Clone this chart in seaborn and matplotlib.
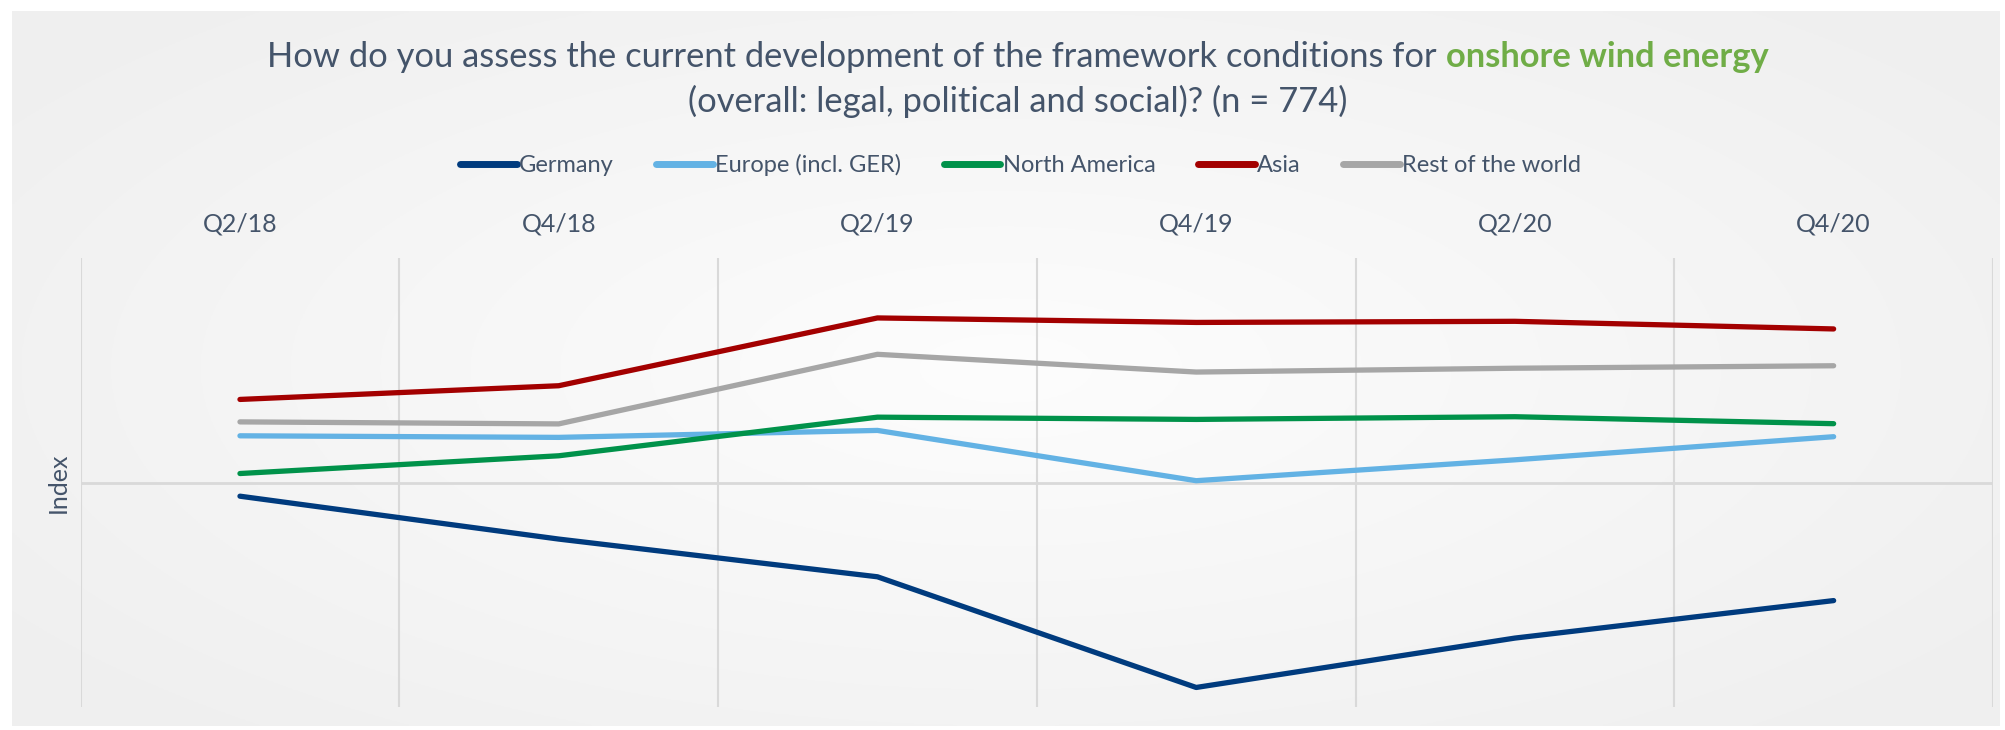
import numpy as np
import pandas as pd
import seaborn as sns
from matplotlib import pyplot as plt

# quarters and index values (axis has no scale: -100..100)
quarters = ["Q2/18", "Q4/18", "Q2/19", "Q4/19", "Q2/20", "Q4/20"]
germany = [-6.1, -25.2, -42.0, -91.3, -69.3, -52.6]
europe = [20.8, 20.1, 23.2, 0.8, 10.1, 20.4]
north_america = [4.0, 11.9, 29.1, 28.1, 29.3, 26.2]
asia = [37.0, 43.1, 73.3, 71.3, 71.8, 68.4]
rest_of_world = [27.0, 26.1, 57.1, 49.2, 50.9, 52.0]

regions = ["Germany", "Europe (incl. GER)", "North America", "Asia", "Rest of the world"]
colors = ["#003B7E", "#63B2E4", "#00924A", "#A30000", "#A6A6A6"]
text_color = "#44546A"

df = pd.DataFrame({
    "Quarter": quarters * 5,
    "Index": germany + europe + north_america + asia + rest_of_world,
    "Region": [r for r in regions for _ in quarters],
})

sns.set_style("white")
plt.rcParams["font.family"] = ["Lato", "DejaVu Sans"]

fig = plt.figure(figsize=(20.05, 7.3), dpi=100)
fig.patch.set_facecolor("white")

# soft radial gray background panel (light centre, gray edges)
bg = fig.add_axes([12 / 2005, 4 / 730, 1988 / 2005, 715 / 730])
yy, xx = np.mgrid[-1:1:300j, -1:1:800j]
r = np.clip(np.sqrt(xx ** 2 + (yy * 0.9) ** 2) / 1.2, 0, 1)
shade = 0.992 - (0.992 - 0.940) * r
bg.imshow(np.dstack([shade, shade, shade]), aspect="auto", extent=(0, 1, 0, 1))
bg.set_axis_off()

ax = fig.add_axes([80.6 / 2005, 23 / 730, 1912.4 / 2005, 449 / 730])
ax.set_facecolor("none")

sns.lineplot(
    data=df, x="Quarter", y="Index", hue="Region",
    hue_order=regions, palette=colors, sort=False,
    linewidth=3.8, solid_capstyle="round", legend=False, ax=ax,
)

ax.set_xlim(-0.5, 5.5)
ax.set_ylim(-100, 100)
ax.set_yticks([])
ax.xaxis.tick_top()
ax.tick_params(axis="x", length=0, pad=16, labelsize=18, labelcolor=text_color)
ax.set_xticks(np.arange(-0.5, 6, 1), minor=True)
ax.tick_params(axis="x", which="minor", length=0)
ax.grid(which="minor", axis="x", color="#D9D9D9", linewidth=1.5)
ax.axhline(0, color="#D9D9D9", linewidth=2, zorder=0)
ax.set_xlabel(None)
ax.set_ylabel("Index", fontsize=18, color=text_color, labelpad=8)
for s in ax.spines.values():
    s.set_visible(False)

# legend
handles = ax.get_lines()[:5]
leg = fig.legend(handles, regions, loc="center", bbox_to_anchor=(0.509, 0.774), ncol=5,
                 frameon=False, fontsize=17, labelcolor=text_color, handlelength=2.4,
                 handletextpad=0.1, columnspacing=1.8)
for h in leg.get_lines():
    h.set_linewidth(5)

# title with highlighted part
title_size = 24.8
part1 = "How do you assess the current development of the framework conditions for"
part2 = "onshore wind energy"
cx = 0.5077
t1 = fig.text(0, 1 - 57 / 730, part1, fontsize=title_size, color=text_color, va="center")
t2 = fig.text(0, 1 - 57 / 730, part2, fontsize=title_size, color="#70AD47",
              fontweight="bold", va="center")
renderer = fig.canvas.get_renderer()
w1 = t1.get_window_extent(renderer).width
w2 = t2.get_window_extent(renderer).width
gap = 0.28 * title_size * 100 / 72
total = w1 + gap + w2
x0 = cx * 2005 - total / 2
t1.set_x(x0 / 2005)
t2.set_x((x0 + w1 + gap) / 2005)
fig.text(cx, 1 - 101 / 730, "(overall: legal, political and social)? (n = 774)",
         fontsize=title_size, color=text_color, ha="center", va="center")

plt.savefig("out.png", dpi=100)
